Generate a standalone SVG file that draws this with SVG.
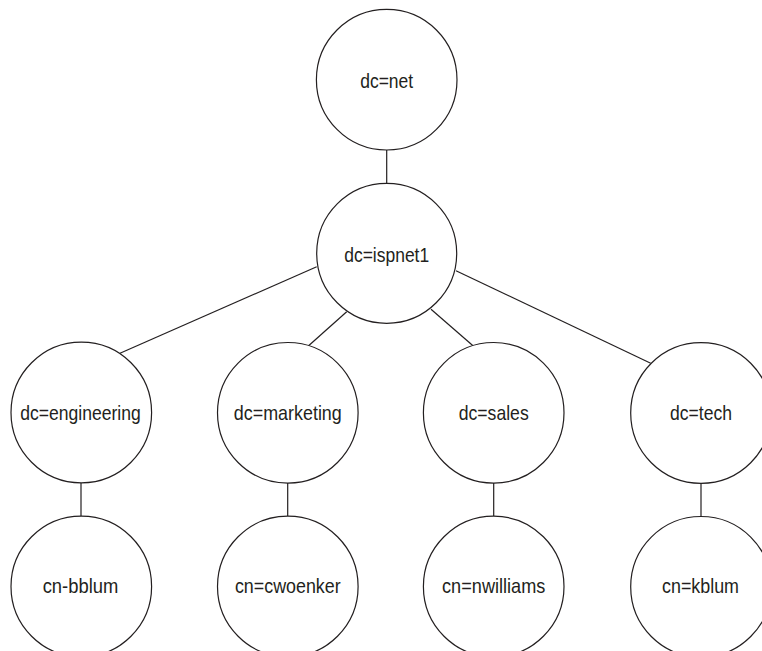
<svg xmlns="http://www.w3.org/2000/svg" width="762" height="651" viewBox="0 0 762 651">
<style>
.n{fill:#fff;stroke:#231f20;stroke-width:1.2}
.e{stroke:#231f20;stroke-width:1.2;fill:none}
text{font-family:"Liberation Sans Narrow","Liberation Sans",Arial,sans-serif;font-size:21px;fill:#231f20;text-anchor:middle}
</style>
<rect width="762" height="651" fill="#fff"/>
<g id="connectors">
<line class="e" x1="386.7" y1="150" x2="386.7" y2="183.3"/>
<line class="e" x1="316.7" y1="266.7" x2="120" y2="353.3"/>
<line class="e" x1="346.7" y1="311.7" x2="308.3" y2="346"/>
<line class="e" x1="431" y1="309.3" x2="473.3" y2="346"/>
<line class="e" x1="456" y1="270.7" x2="650.7" y2="363.3"/>
<line class="e" x1="81" y1="483" x2="81" y2="516"/>
<line class="e" x1="287.7" y1="483" x2="287.7" y2="516"/>
<line class="e" x1="493.7" y1="483" x2="493.7" y2="516"/>
<line class="e" x1="701" y1="483" x2="701" y2="516"/>
</g>
<g id="dc-net"><circle class="n" cx="386.7" cy="79.7" r="70.3"/><text x="386.7" y="88" textLength="53" lengthAdjust="spacingAndGlyphs">dc=net</text></g>
<g id="dc-ispnet1"><circle class="n" cx="386.7" cy="253.3" r="70"/><text x="386.7" y="262" textLength="85" lengthAdjust="spacingAndGlyphs">dc=ispnet1</text></g>
<g id="dc-engineering"><circle class="n" cx="81.3" cy="412.5" r="70.3"/><text x="80.5" y="420" textLength="120.5" lengthAdjust="spacingAndGlyphs">dc=engineering</text></g>
<g id="dc-marketing"><circle class="n" cx="287.8" cy="412.8" r="70.3"/><text x="287.8" y="420" textLength="108" lengthAdjust="spacingAndGlyphs">dc=marketing</text></g>
<g id="dc-sales"><circle class="n" cx="493.7" cy="412.8" r="70.3"/><text x="493.7" y="420" textLength="70" lengthAdjust="spacingAndGlyphs">dc=sales</text></g>
<g id="dc-tech"><circle class="n" cx="701" cy="413" r="70.3"/><text x="701" y="420" textLength="62" lengthAdjust="spacingAndGlyphs">dc=tech</text></g>
<g id="cn-bblum"><circle class="n" cx="81.3" cy="586.5" r="70.3"/><text x="80.5" y="593.3" textLength="75.7" lengthAdjust="spacingAndGlyphs">cn-bblum</text></g>
<g id="cn-cwoenker"><circle class="n" cx="287.8" cy="586.5" r="70.3"/><text x="287.8" y="593.3" textLength="105.7" lengthAdjust="spacingAndGlyphs">cn=cwoenker</text></g>
<g id="cn-nwilliams"><circle class="n" cx="493.7" cy="586.5" r="70.3"/><text x="493.7" y="593.3" textLength="103.3" lengthAdjust="spacingAndGlyphs">cn=nwilliams</text></g>
<g id="cn-kblum"><circle class="n" cx="701" cy="586.8" r="70.3"/><text x="700.5" y="593.3" textLength="77" lengthAdjust="spacingAndGlyphs">cn=kblum</text></g>
</svg>
